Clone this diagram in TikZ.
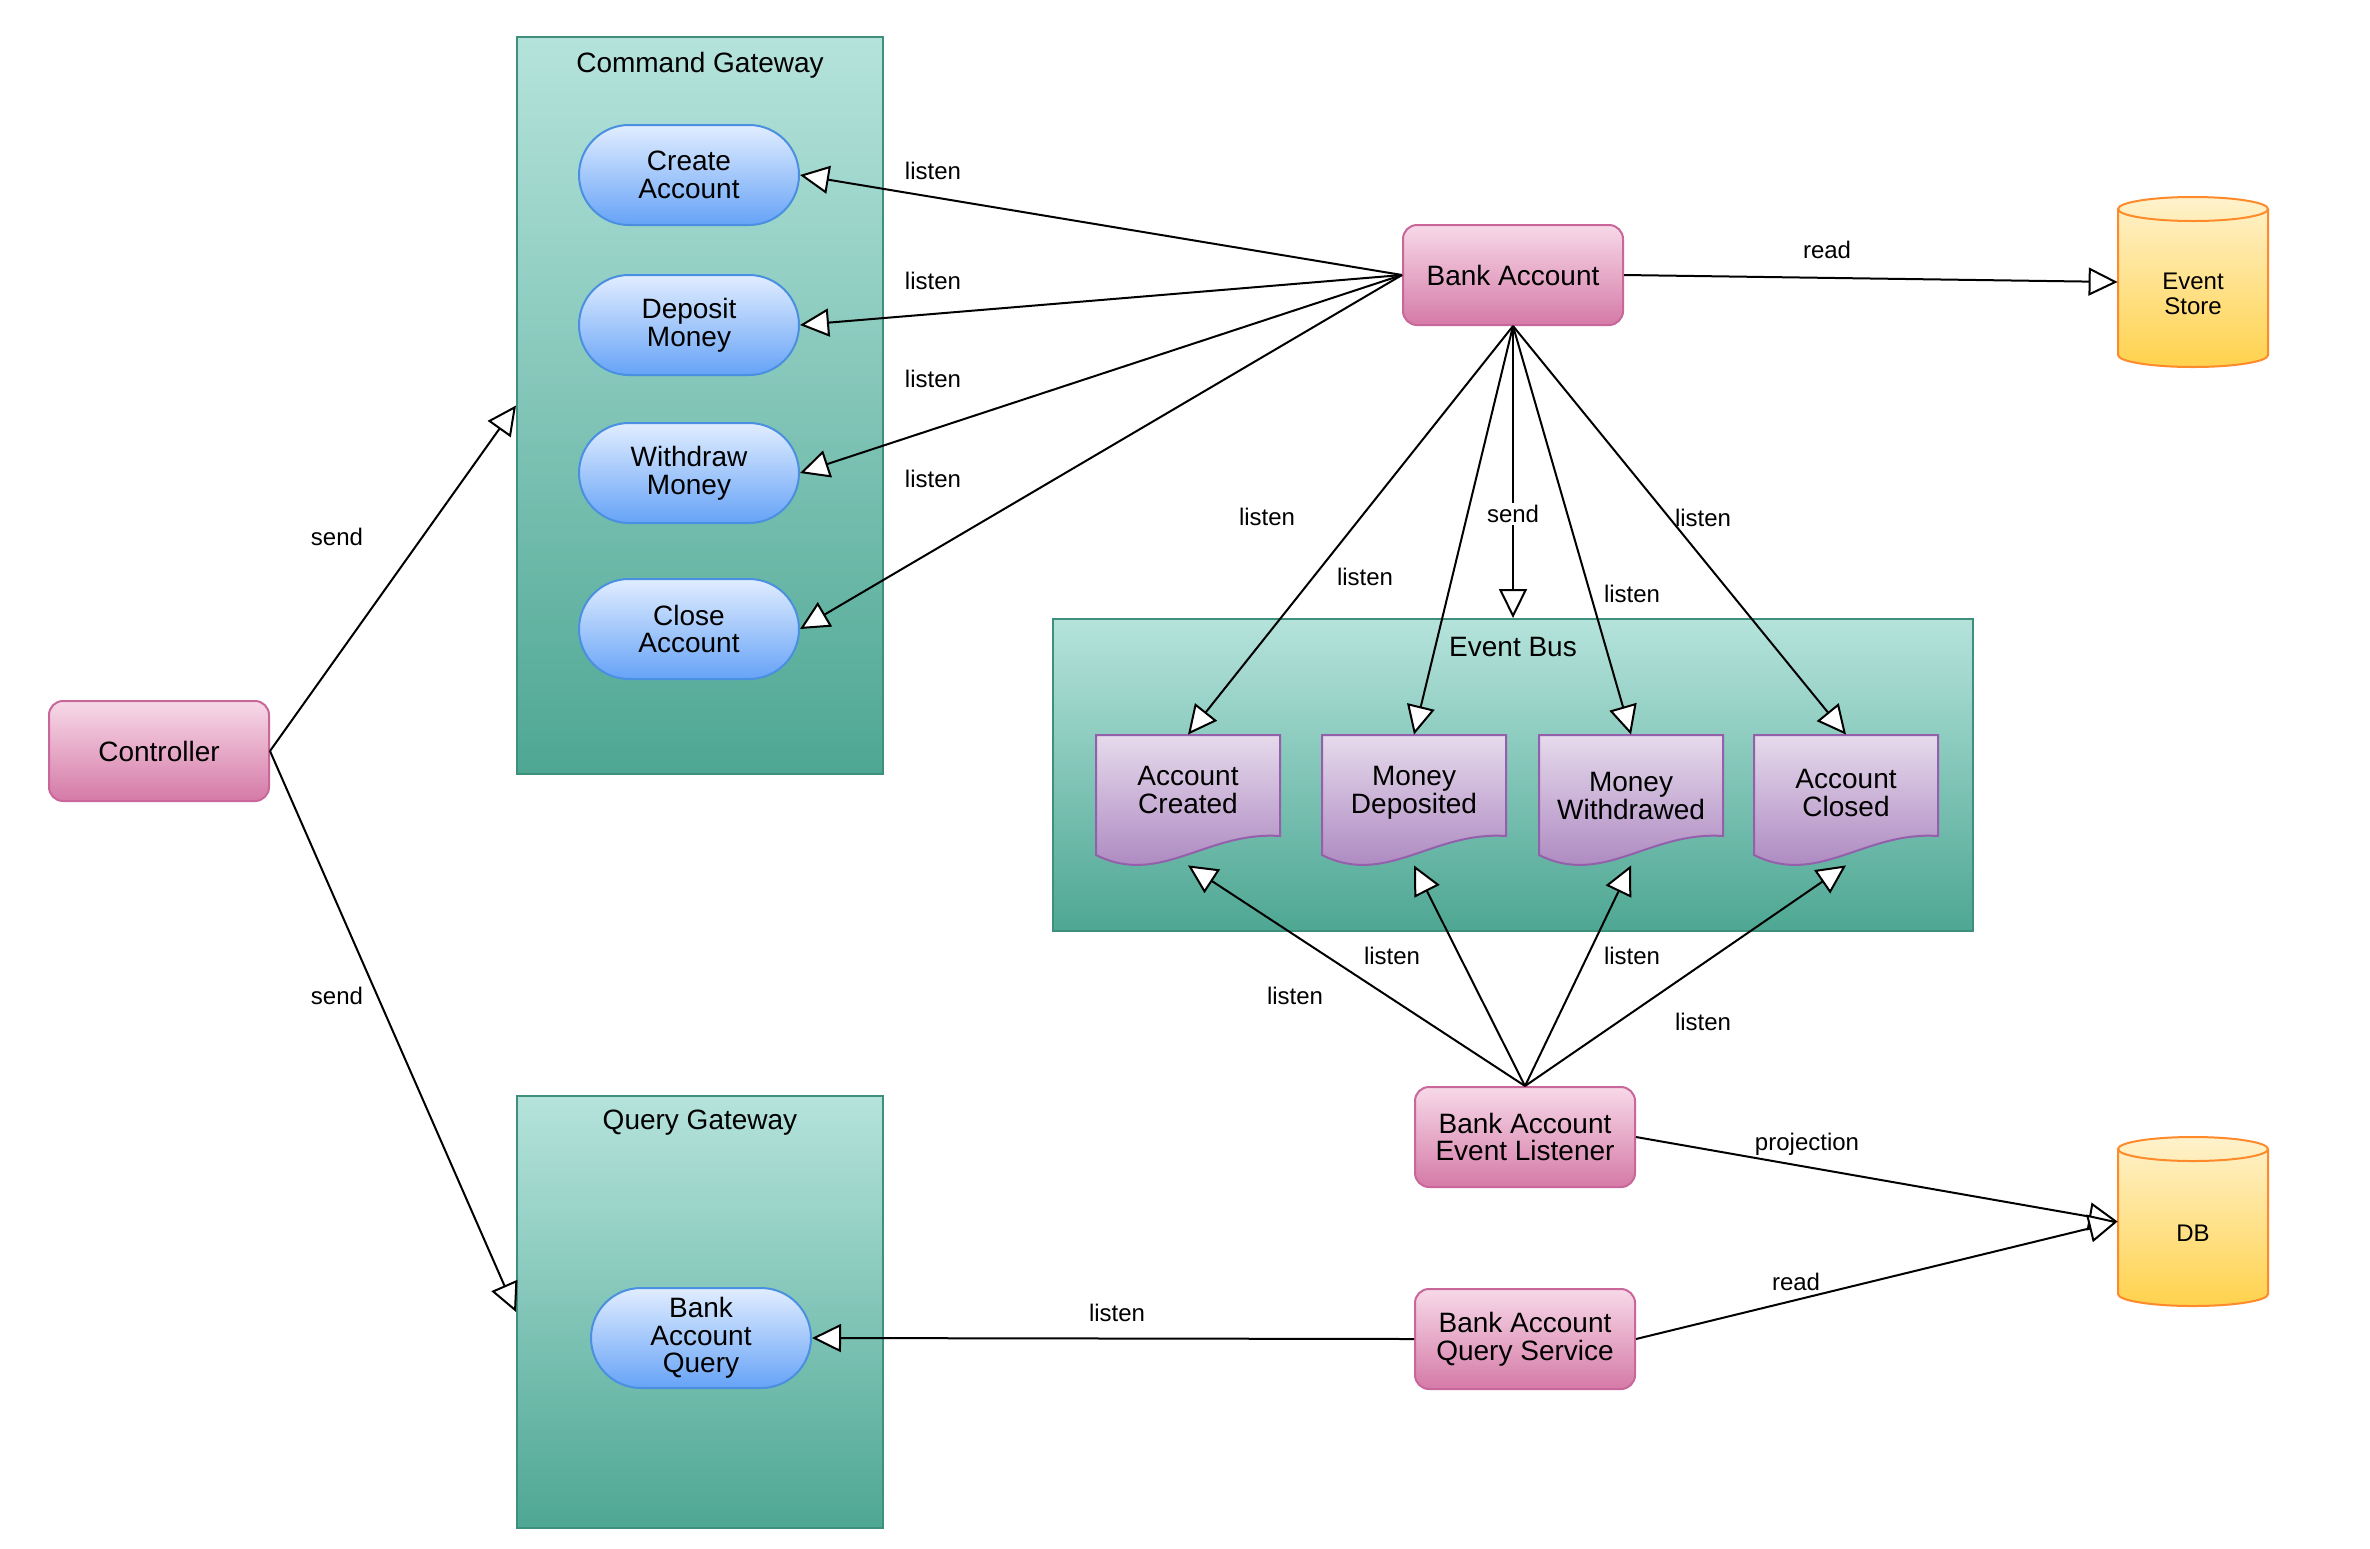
\documentclass[tikz,border=0pt]{standalone}
\usepackage{fontspec}
\setmainfont{Liberation Sans}
\usetikzlibrary{arrows.meta}
\definecolor{pinkT}{HTML}{F7D9E8}
\definecolor{pinkB}{HTML}{D57AA7}
\definecolor{pinkS}{HTML}{C9669A}
\definecolor{blueT}{HTML}{E1EDFF}
\definecolor{blueB}{HTML}{66A3F7}
\definecolor{blueS}{HTML}{4A8FE0}
\definecolor{tealT}{HTML}{B5E3DC}
\definecolor{tealB}{HTML}{4EA793}
\definecolor{tealS}{HTML}{3E8F7C}
\definecolor{purpT}{HTML}{E6DAEC}
\definecolor{purpB}{HTML}{A57DBA}
\definecolor{purpS}{HTML}{9460AB}
\definecolor{yelT}{HTML}{FFF2CC}
\definecolor{yelB}{HTML}{FFD24D}
\definecolor{yelS}{HTML}{FF8A2B}
\newcommand{\docpath}[2]{% #1 = left x, #2 = top y (px)
  \path[draw=purpS, line width=1pt, top color=purpT, bottom color=purpB, shift={(#1,#2)}]
    (0,0) -- (184,0) -- (184,101) .. controls (110,96) and (64,152) .. (0,120) -- cycle;}
\newcommand{\cylpath}[3]{% #1 = center x, #2 = top y, #3 = bottom y
  \path[draw=yelS, line width=1pt, top color=yelT, bottom color=yelB]
    (#1-75,#2+12) -- (#1-75,#3-12) arc[start angle=180, end angle=360, x radius=37.5pt, y radius=6pt]
    -- (#1+75,#2+12) arc[start angle=0, end angle=180, x radius=37.5pt, y radius=6pt] -- cycle;
  \draw[yelS, line width=1pt] (#1-75,#2+12) arc[start angle=180, end angle=360, x radius=37.5pt, y radius=6pt];}
\begin{document}
\begin{tikzpicture}[x=0.5pt,y=-0.5pt,
  conn/.style={line width=1pt, -{Triangle[length=14.5pt,width=14pt,fill=white]}},
  nodefont/.style={font=\fontsize{14}{13.8}\selectfont},
  pinkbox/.style={nodefont, draw=pinkS, line width=1pt, rounded corners=7pt, top color=pinkT, bottom color=pinkB, minimum width=110pt, minimum height=50pt, align=center, inner sep=0pt},
  bluebox/.style={nodefont, draw=blueS, line width=1pt, rounded corners=25pt, top color=blueT, bottom color=blueB, minimum width=110pt, minimum height=50pt, align=center, inner sep=0pt},
  container/.style={draw=tealS, line width=1pt, top color=tealT, bottom color=tealB, inner sep=0pt},
  title/.style={nodefont, inner sep=0pt},
  doctext/.style={nodefont, align=center, inner sep=0pt},
  docnode/.style={minimum width=92pt, minimum height=65pt, inner sep=0pt},
  cylnode/.style={minimum width=75pt, inner sep=0pt},
  cyltext/.style={font=\fontsize{12}{12.5}\selectfont, align=center, inner sep=0pt},
  lbl/.style={font=\fontsize{12}{13}\selectfont, inner sep=1pt},
]
\useasboundingbox[fill=white] (0,0) rectangle (2370,1548);

% containers
\node[container, minimum width=183pt, minimum height=368.5pt] (cg) at (700,405.5) {};
\node[title] (cgt) at (700,65) {Command Gateway};
\node[container, minimum width=183pt, minimum height=216pt] (qg) at (700,1312) {};
\node[title] (qgt) at (700,1123) {Query Gateway};
\node[container, minimum width=460pt, minimum height=156pt] (eb) at (1513,775) {};
\node[title] (ebt) at (1513,647) {Event Bus};

% pink boxes
\node[pinkbox] (ctrl) at (159,751) {Controller};
\node[pinkbox] (ba) at (1513,275) {Bank Account};
\node[pinkbox] (bael) at (1525,1137) {Bank Account\\Event Listener};
\node[pinkbox] (baqs) at (1525,1339) {Bank Account\\Query Service};

% blue commands / query
\node[bluebox] (ca) at (689,175) {Create\\Account};
\node[bluebox] (dm) at (689,325) {Deposit\\Money};
\node[bluebox] (wm) at (689,473) {Withdraw\\Money};
\node[bluebox] (cla) at (689,629) {Close\\Account};
\node[bluebox] (baq) at (701,1338) {Bank\\Account\\Query};

% event documents
\docpath{1096}{735}
\docpath{1322}{735}
\docpath{1539}{735}
\docpath{1754}{735}
\node[docnode] (ac) at (1188,800) {};
\node[docnode] (md) at (1414,800) {};
\node[docnode] (mw) at (1631,800) {};
\node[docnode] (acl) at (1846,800) {};
\node[doctext] (actx) at (1188,790) {Account\\Created};
\node[doctext] (mdtx) at (1414,793) {Money\\Deposited};
\node[doctext] (mwtx) at (1631,796) {Money\\Withdrawed};
\node[doctext] (acltx) at (1846,793) {Account\\Closed};

% cylinders
\cylpath{2193}{197}{367}
\cylpath{2193}{1137}{1306}
\node[cylnode, minimum height=85pt] (es) at (2193,282) {};
\node[cyltext] (estx) at (2193,294) {Event\\Store};
\node[cylnode, minimum height=84.5pt] (db) at (2193,1221.5) {};
\node[cyltext] (dbtx) at (2193,1233) {DB};

% connectors
\draw[conn] (ctrl.east) -- (cg.west);
\draw[conn] (ctrl.east) -- (qg.west);
\draw[conn] (ba.west) -- (ca.east);
\draw[conn] (ba.west) -- (dm.east);
\draw[conn] (ba.west) -- (wm.east);
\draw[conn] (ba.west) -- (cla.east);
\draw[conn] (ba.east) -- (es.west);
\draw[conn] (ba.south) -- (ac.north);
\draw[conn] (ba.south) -- (md.north);
\draw[conn] (ba.south) -- (mw.north);
\draw[conn] (ba.south) -- (acl.north);
\draw[conn] (ba.south) -- (eb.north);
\draw[conn] (bael.north) -- (ac.south);
\draw[conn] (bael.north) -- (md.south);
\draw[conn] (bael.north) -- (mw.south);
\draw[conn] (bael.north) -- (acl.south);
\draw[conn] (bael.east) -- (db.west);
\draw[conn] (baqs.east) -- (db.west);
\draw[conn] (baqs.west) -- (baq.east);

% labels
\node[lbl] (l1) at (933,171) {listen};
\node[lbl] (l2) at (933,281) {listen};
\node[lbl] (l3) at (933,379) {listen};
\node[lbl] (l4) at (933,479) {listen};
\node[lbl] (s1) at (337,537) {send};
\node[lbl] (s2) at (337,996) {send};
\node[lbl] (r1) at (1827,250) {read};
\node[lbl] (l5) at (1267,517) {listen};
\node[lbl] (l6) at (1365,577) {listen};
\node[lbl, fill=white] (s3) at (1513,514) {send};
\node[lbl] (l7) at (1632,594) {listen};
\node[lbl] (l8) at (1703,518) {listen};
\node[lbl] (l9) at (1392,956) {listen};
\node[lbl] (l10) at (1295,996) {listen};
\node[lbl] (l11) at (1632,956) {listen};
\node[lbl] (l12) at (1703,1022) {listen};
\node[lbl] (p1) at (1807,1144) {projection};
\node[lbl] (r2) at (1796,1282) {read};
\node[lbl] (l13) at (1117,1313) {listen};
\end{tikzpicture}
\end{document}
